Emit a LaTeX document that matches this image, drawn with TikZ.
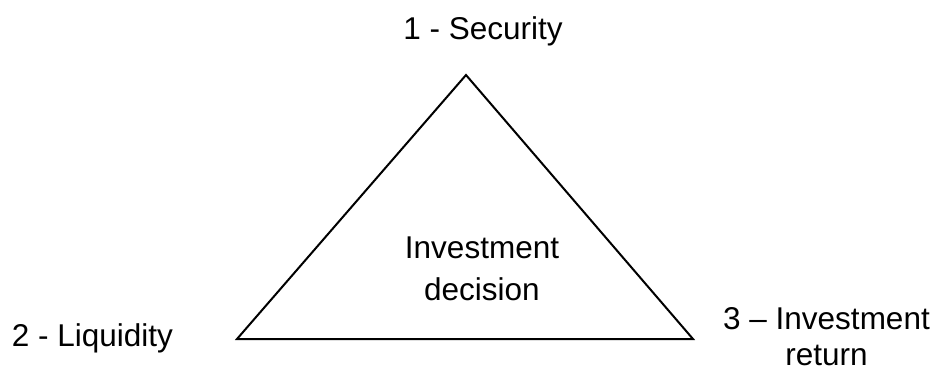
\documentclass[tikz,border=0pt]{standalone}
\usepackage{fontspec}
\setmainfont{Liberation Sans}
\begin{document}
\begin{tikzpicture}[x=0.5pt, y=0.5pt,
    corner/.style={font=\fontsize{15.75}{17}\selectfont, inner sep=0pt}]
            \useasboundingbox (0, 0) rectangle (937, 372);
            %\draw[lightgray] (0, 0) grid[step=50] (937, 372);
            \coordinate (top) at (466, 297);
            \coordinate (left) at (237, 33);
            \coordinate (right) at (693, 33);
            \draw[line width=1pt] (top) -- (left) -- (right) -- cycle;
            \node[corner, anchor=base] (security) at (483, 333) {1 - Security};
            \node[corner, anchor=base] (liquidity) at (92.5, 25.3) {2 - Liquidity};
            \node[corner, align=center, font=\fontsize{15.75}{18}\selectfont] (return) at (826.5, 35) {3 -- Investment\\return\hspace{0.7em}};
            \node[corner, align=center, font=\fontsize{15.75}{21}\selectfont] (decision) at (482, 103.5) {Investment\\decision};
        \end{tikzpicture}
\end{document}
